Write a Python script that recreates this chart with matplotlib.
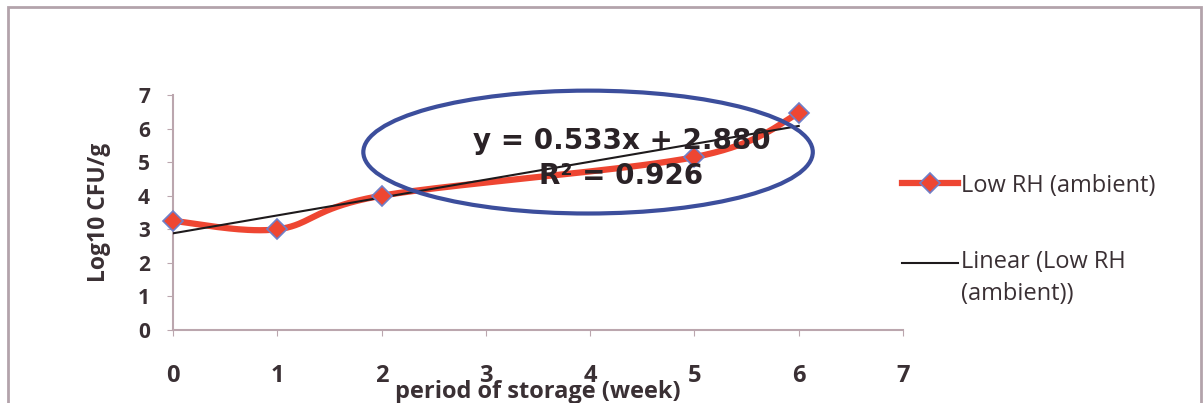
import numpy as np
import matplotlib.pyplot as plt
from matplotlib.patches import Ellipse, Rectangle
from matplotlib.lines import Line2D

# storage period (weeks) and counts
weeks = [0, 1, 2, 5, 6]
log_cfu = [3.25, 3.0, 4.0, 5.15, 6.45]
slope, intercept, r2 = 0.533, 2.880, 0.926

series_label = 'Low RH (ambient)'
trend_label = 'Linear (Low RH\n(ambient))'

red = '#EE4632'
edge_blue = '#6F7FC8'
spine_col = '#BBA6AE'
txt_col = '#3A3034'


def smooth_curve(xs, ys, n=40):
    # bezier smoothing through every point (spreadsheet style)
    p = np.column_stack([xs, ys]).astype(float)
    pts = np.vstack([p[0], p, p[-1]])
    out = []
    for i in range(1, len(pts) - 2):
        p0, p1, p2, p3 = pts[i - 1], pts[i], pts[i + 1], pts[i + 2]
        c1 = p1 + (p2 - p0) / 6.0
        c2 = p2 - (p3 - p1) / 6.0
        t = np.linspace(0, 1, n)[:, None]
        seg = ((1 - t) ** 3) * p1 + 3 * ((1 - t) ** 2) * t * c1 \
            + 3 * (1 - t) * t ** 2 * c2 + t ** 3 * p2
        out.append(seg)
    out = np.vstack(out)
    return out[:, 0], out[:, 1]


plt.rcParams['font.family'] = ['Open Sans', 'DejaVu Sans']

fig = plt.figure(figsize=(12.03, 4.03), dpi=100)
fig.patch.set_facecolor('white')

# outer chart frame
fig.add_artist(Rectangle((8 / 1203, -0.05), 1193 / 1203, 1.05 - 7 / 403,
                         transform=fig.transFigure, fill=False,
                         edgecolor='#B3A3AB', lw=2))

ax = fig.add_axes([173 / 1203, 73 / 403, 730 / 1203, 235 / 403])
ax.set_xlim(0, 7)
ax.set_ylim(0, 7)

sx, sy = smooth_curve(weeks, log_cfu)
ax.plot(sx, sy, color=red, lw=4.5, solid_capstyle='round', zorder=3)
ax.plot(weeks, log_cfu, ls='none', marker='D', ms=10.5, mfc=red,
        mec=edge_blue, mew=1.2, zorder=5, clip_on=False)

tx = np.array([weeks[0], weeks[-1]])
ax.plot(tx, slope * tx + intercept, color='#1E1A1C', lw=1.5, zorder=4)

ax.add_patch(Ellipse((3.98, 5.30), 4.31, 3.66, fill=False,
                     edgecolor='#3C4E9C', lw=3, zorder=6, clip_on=False))
ax.text(4.3, 5.64, f'y = {slope:.3f}x + {intercept:.3f}', ha='center',
        va='center', fontsize=20, fontweight='bold', color='#2A2226',
        family=['DejaVu Sans'], zorder=7)
ax.text(4.3, 4.6, f'R² = {r2:.3f}', ha='center', va='center',
        fontsize=20, fontweight='bold', color='#2A2226',
        family=['DejaVu Sans'], zorder=7)

for side in ['top', 'right']:
    ax.spines[side].set_visible(False)
for side in ['left', 'bottom']:
    ax.spines[side].set_color(spine_col)
    ax.spines[side].set_linewidth(1.5)
ax.set_xticks(range(8))
ax.set_yticks(range(8))
ax.tick_params(axis='x', direction='out', length=4.5, color=spine_col,
               pad=20, labelsize=17, labelcolor=txt_col)
ax.tick_params(axis='y', direction='out', length=4.5, color=spine_col,
               pad=12, labelsize=15, labelcolor=txt_col)
for lab in ax.get_xticklabels() + ax.get_yticklabels():
    lab.set_fontweight('bold')

ax.set_xlabel('period of storage (week)', fontsize=17, fontweight='bold',
              color=txt_col, va='baseline')
ax.xaxis.set_label_coords(0.5, -68 / 235)
ax.set_ylabel('Log10 CFU/g', fontsize=16.5, fontweight='bold',
              color=txt_col, va='center')
ax.yaxis.set_label_coords(-74 / 730, 0.5)

# legend entries
def fx(px):
    return px / 1203


def fy(py):
    return 1 - py / 403


fig.add_artist(Line2D([fx(902), fx(958)], [fy(183), fy(183)], color=red,
                      lw=4.5, transform=fig.transFigure))
fig.add_artist(Line2D([fx(930)], [fy(183)], marker='D', ms=10.5, mfc=red,
                      mec=edge_blue, mew=1.2, transform=fig.transFigure))
fig.text(fx(961), fy(183), series_label, fontsize=17, color=txt_col,
         va='center_baseline', ha='left')
fig.add_artist(Line2D([fx(902), fx(958)], [fy(263), fy(263)],
                      color='#1E1A1C', lw=1.5, transform=fig.transFigure))
fig.text(fx(961), fy(250), trend_label, fontsize=17, color=txt_col,
         va='top', ha='left', linespacing=1.45)

fig.savefig('out.png', dpi=100)
